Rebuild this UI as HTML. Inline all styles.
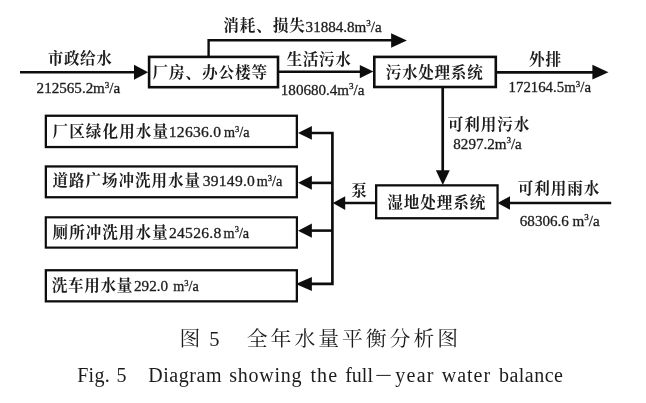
<!DOCTYPE html>
<html><head><meta charset="utf-8"><title>Fig. 5</title>
<style>
html,body{margin:0;padding:0;background:#fff;}
body{width:646px;height:403px;overflow:hidden;font-family:"Liberation Serif",serif;}
svg{display:block;}
svg text{font-family:"Liberation Serif","Noto Serif CJK SC",serif;white-space:pre;}
svg text.cj{font-size:15.59px;font-weight:bold;fill:#1c1c1c;}
svg text.num{fill:#1c1c1c;stroke:#1c1c1c;stroke-width:0.3;}
svg text.cap{fill:#1c1c1c;}
</style></head><body>
<svg width="646" height="403" viewBox="0 0 646 403">
<title>图 5 全年水量平衡分析图 Fig. 5 Diagram showing the full-year water balance</title>
<desc>市政给水 212565.2m3/a → 厂房、办公楼等 → 消耗、损失 31884.8m3/a；生活污水 180680.4m3/a → 污水处理系统 → 外排 172164.5m3/a；可利用污水 8297.2m3/a → 湿地处理系统 ← 可利用雨水 68306.6 m3/a；泵 → 厂区绿化用水量 12636.0 m3/a，道路广场冲洗用水量 39149.0 m3/a，厕所冲洗用水量 24526.8 m3/a，洗车用水量 292.0 m3/a</desc>
<defs><filter id="soft" x="0" y="0" width="646" height="403" filterUnits="userSpaceOnUse"><feGaussianBlur stdDeviation="0.5"/></filter></defs>
<rect width="646" height="403" fill="#fff"/>
<g filter="url(#soft)">
<rect width="646" height="403" fill="#fff"/>
<polyline points="20.00,72.20 140.00,72.20" fill="none" stroke="#111" stroke-width="2.60" stroke-linejoin="miter"/>
<polyline points="208.60,57.00 208.60,40.30 395.00,40.30" fill="none" stroke="#111" stroke-width="2.40" stroke-linejoin="miter"/>
<polyline points="278.00,71.70 365.00,71.70" fill="none" stroke="#111" stroke-width="2.60" stroke-linejoin="miter"/>
<polyline points="496.00,72.40 597.00,72.40" fill="none" stroke="#111" stroke-width="2.60" stroke-linejoin="miter"/>
<polyline points="442.70,87.00 442.70,175.00" fill="none" stroke="#111" stroke-width="2.70" stroke-linejoin="miter"/>
<polyline points="611.20,203.00 505.00,203.00" fill="none" stroke="#111" stroke-width="2.70" stroke-linejoin="miter"/>
<polyline points="376.00,203.00 340.00,203.00" fill="none" stroke="#111" stroke-width="2.60" stroke-linejoin="miter"/>
<polyline points="305.00,133.00 332.40,133.00 332.40,283.80 305.00,283.80" fill="none" stroke="#111" stroke-width="2.70" stroke-linejoin="miter"/>
<polyline points="305.00,182.90 332.40,182.90" fill="none" stroke="#111" stroke-width="2.60" stroke-linejoin="miter"/>
<polyline points="305.00,230.60 332.40,230.60" fill="none" stroke="#111" stroke-width="2.60" stroke-linejoin="miter"/>
<polygon points="148.20,72.20 134.00,64.70 134.00,79.70" fill="#111"/>
<polygon points="406.90,40.60 391.10,33.35 391.10,47.85" fill="#111"/>
<polygon points="373.40,71.60 359.80,65.00 359.80,78.20" fill="#111"/>
<polygon points="608.50,72.20 592.40,64.85 592.40,79.55" fill="#111"/>
<polygon points="442.80,185.00 435.85,170.20 449.75,170.20" fill="#111"/>
<polygon points="497.40,202.90 510.00,196.15 510.00,209.65" fill="#111"/>
<polygon points="332.80,203.10 345.20,196.30 345.20,209.90" fill="#111"/>
<polygon points="298.00,132.90 311.90,125.95 311.90,139.85" fill="#111"/>
<polygon points="298.00,182.80 311.90,175.85 311.90,189.75" fill="#111"/>
<polygon points="298.00,230.70 311.90,223.60 311.90,237.80" fill="#111"/>
<rect x="149.10" y="56.90" width="128.90" height="30.30" fill="#fff" stroke="#111" stroke-width="2.60"/>
<rect x="374.30" y="56.90" width="121.50" height="30.10" fill="#fff" stroke="#111" stroke-width="2.60"/>
<rect x="376.15" y="185.35" width="121.40" height="32.90" fill="#fff" stroke="#111" stroke-width="2.30"/>
<rect x="45.85" y="115.75" width="251.00" height="31.30" fill="#fff" stroke="#111" stroke-width="2.30"/>
<rect x="45.85" y="166.45" width="251.00" height="30.80" fill="#fff" stroke="#111" stroke-width="2.30"/>
<rect x="45.80" y="217.30" width="251.10" height="30.30" fill="#fff" stroke="#111" stroke-width="2.20"/>
<rect x="45.85" y="270.25" width="251.00" height="31.10" fill="#fff" stroke="#111" stroke-width="2.30"/>
<polygon points="295.70,284.00 311.90,277.10 311.90,290.90" fill="#111"/>

<text class="cj" x="47.75 63.9 80.05 96.2" y="63.94">市政给水</text>
<text class="num" x="36.6" y="93.1" font-size="15.1">212565.2<tspan x="93.02">m</tspan><tspan x="104.74" y="87.68" font-size="9.03">3</tspan><tspan x="109.26" y="93.1">/a</tspan></text>

<text class="cj" x="223.25 239.75 256.25 272.75 289.25" y="30.64">消耗、损失</text>
<text class="num" x="305.6" y="31.6" font-size="15.1">31884.8<tspan x="354.49">m</tspan><tspan x="366.21" y="26.18" font-size="9.03">3</tspan><tspan x="370.73" y="31.6">/a</tspan></text>

<text class="cj" x="152.45 168.95 185.45 201.95 218.45 234.95 251.45" y="78.44">厂房、办公楼等</text>

<text class="cj" x="286.65 302.85 319.05 335.25" y="65.24">生活污水</text>
<text class="num" x="280.8" y="94.8" font-size="15.1">180680.4<tspan x="337.22">m</tspan><tspan x="348.94" y="89.38" font-size="9.03">3</tspan><tspan x="353.46" y="94.8">/a</tspan></text>

<text class="cj" x="385.65 401.95 418.25 434.55 450.85 467.15" y="77.94">污水处理系统</text>

<text class="cj" x="529.05 545.55" y="64.94">外排</text>
<text class="num" x="508.6" y="91.9" font-size="14.8">172164.5<tspan x="564.26">m</tspan><tspan x="575.82" y="86.55" font-size="8.9">3</tspan><tspan x="580.27" y="91.9">/a</tspan></text>

<text class="cj" x="447.75 464.25 480.75 497.25 513.75" y="129.84">可利用污水</text>
<text class="num" x="453.3" y="148.5" font-size="15.1">8297.2<tspan x="494.67">m</tspan><tspan x="506.39" y="143.08" font-size="9.03">3</tspan><tspan x="510.91" y="148.5">/a</tspan></text>

<text class="cj" x="351.25" y="195.64">泵</text>
<text class="cj" x="387.25 403.75 420.25 436.75 453.25 469.75" y="207.64">湿地处理系统</text>

<text class="cj" x="517.85 534.35 550.85 567.35 583.85" y="193.64">可利用雨水</text>
<text class="num" x="519.8" y="225.7" font-size="15.1">68306.6<tspan x="572.46">m</tspan><tspan x="584.17" y="220.28" font-size="9.03">3</tspan><tspan x="588.69" y="225.7">/a</tspan></text>

<text class="cj" x="52.55 69.2 85.85 102.5 119.15 135.8 152.45" y="137.34">厂区绿化用水量</text>
<text class="num" x="168.8" y="137.0" font-size="15.6" letter-spacing="0.25">12636.0</text>
<text class="num" x="224.0" y="137.0" font-size="14.2">m<tspan x="235.05" y="131.89" font-size="8.5">3</tspan><tspan x="239.31" y="137.0">/a</tspan></text>

<text class="cj" x="52.55 69.05 85.55 102.05 118.55 135.05 151.55 168.05 184.55" y="186.44">道路广场冲洗用水量</text>
<text class="num" x="202.7" y="186.2" font-size="15.6" letter-spacing="0.25">39149.0</text>
<text class="num" x="256.7" y="186.2" font-size="14.2">m<tspan x="267.75" y="181.09" font-size="8.5">3</tspan><tspan x="272.01" y="186.2">/a</tspan></text>

<text class="cj" x="52.55 69.13 85.71 102.29 118.87 135.45 152.03" y="237.64">厕所冲洗用水量</text>
<text class="num" x="169.0" y="237.6" font-size="15.6" letter-spacing="0.25">24526.8</text>
<text class="num" x="223.6" y="237.6" font-size="14.2">m<tspan x="234.65" y="232.49" font-size="8.5">3</tspan><tspan x="238.91" y="237.6">/a</tspan></text>

<text class="cj" x="51.65 67.9 84.15 100.4 116.65" y="290.64">洗车用水量</text>
<text class="num" x="134.0" y="290.9" font-size="15.2">292.0</text>
<text class="num" x="173.2" y="290.9" font-size="14.2">m<tspan x="184.25" y="285.79" font-size="8.5">3</tspan><tspan x="188.51" y="290.9">/a</tspan></text>

<text class="cap" x="179.5" y="346.4" font-size="20.8">图</text>
<text class="cap" x="209.2" y="346.0" font-size="20.5">5</text>
<text class="cap" x="246.8 270.6 294.4 318.2 342 365.8 389.6 413.4 437.2" y="346.4" font-size="20.8">全年水量平衡分析图</text>

<text class="cap" y="381.6" font-size="20"><tspan x="77.2" letter-spacing="0.3">Fig.</tspan><tspan x="116.6">5</tspan><tspan x="148.2" letter-spacing="0.57">Diagram</tspan><tspan x="229.3" letter-spacing="0.75">showing</tspan><tspan x="310.4" letter-spacing="1.17">the</tspan><tspan x="345.2">full</tspan><tspan x="395.3" letter-spacing="1.25">year</tspan><tspan x="441.7" letter-spacing="1">water</tspan><tspan x="499" letter-spacing="0.47">balance</tspan></text>
<line x1="376.3" y1="375.4" x2="390.7" y2="375.4" stroke="#1c1c1c" stroke-width="1"/>
</g>
</svg>
</body></html>
